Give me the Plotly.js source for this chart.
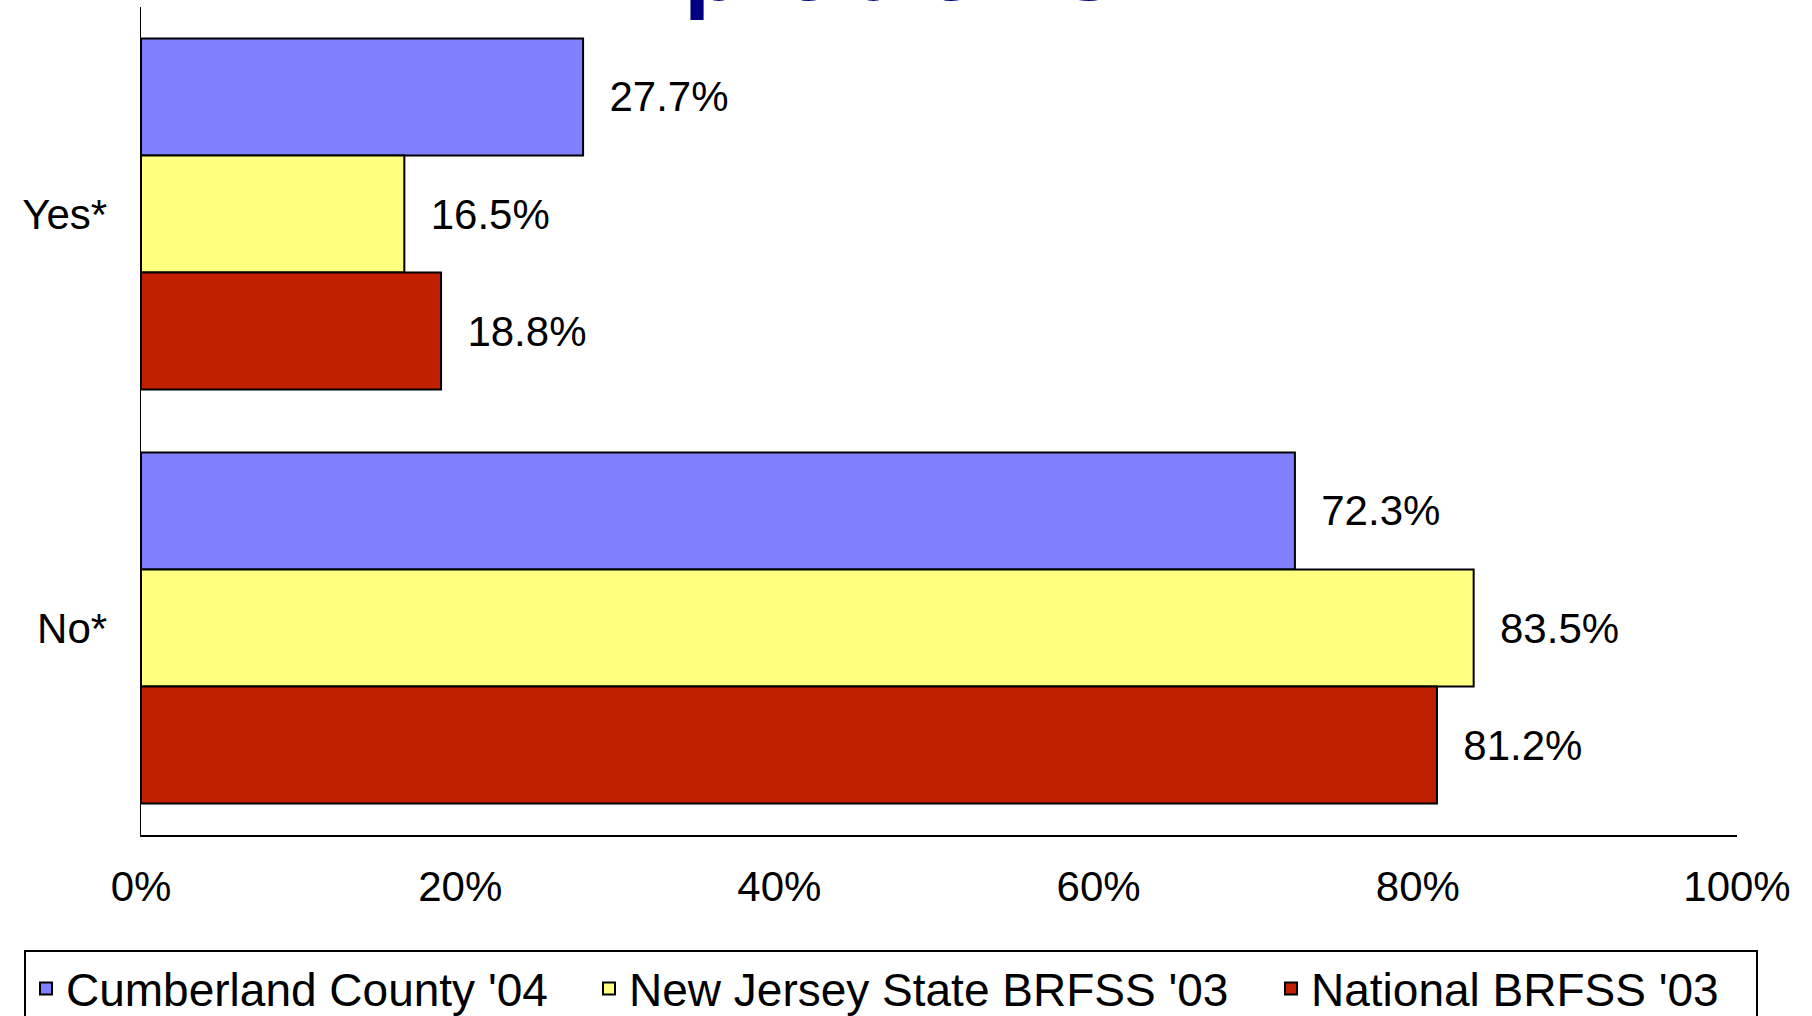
<!DOCTYPE html>
<html>
<head>
<meta charset="utf-8">
<script src="https://cdn.plot.ly/plotly-3.0.1.min.js"></script>
<style>
  html, body { margin: 0; padding: 0; background: #fff; }
  #chart { width: 1812px; height: 1016px; }
</style>
</head>
<body>
<div id="chart"></div>
<script>
// answers (categories) and the three survey series, in percent
var answers = ["Yes*", "No*"];
var cumberland = [27.7, 72.3];
var newJersey = [16.5, 83.5];
var national = [18.8, 81.2];

var seriesNames = ["Cumberland County '04", "New Jersey State BRFSS '03", "National BRFSS '03"];
var seriesColors = ["#8080FF", "#FFFF80", "#C02000"];
var seriesValues = [cumberland, newJersey, national];
// legend entry widths, px
var legendWidths = [518, 637, 440];

var tickVals = [0, 20, 40, 60, 80, 100];
var tickText = ["0%", "20%", "40%", "60%", "80%", "100%"];

var font = "'Liberation Sans', Arial, sans-serif";

//one horizontal bar trace per series
var data = seriesValues.map(function (vals, i) {
  return {
    type: "bar",
    orientation: "h",
    name: seriesNames[i],
    legendwidth: legendWidths[i],
    y: answers,
    x: vals,
    marker: { color: seriesColors[i], line: { color: "#000", width: 2 } },
    texttemplate: "\u00a0\u00a0%{x:.1f}%",
    textposition: "outside",
    constraintext: "none",
    cliponaxis: false,
    textfont: { family: font, size: 42, color: "#000" },
    hoverinfo: "skip"
  };
});

var layout = {
  width: 1812,
  height: 1016,
  paper_bgcolor: "#fff",
  plot_bgcolor: "#fff",
  margin: { l: 141, r: 75, t: 7, b: 181, autoexpand: false },
  barmode: "group",
  bargap: 0.152,
  bargroupgap: 0,
  title: {
    text: "problems?",
    font: { family: font, size: 96, color: "#000080", weight: "bold" },
    xref: "container",
    yref: "container",
    x: 929 / 1812,
    xanchor: "center",
    y: 1,
    yanchor: "bottom"
  },
  xaxis: {
    range: [0, 100],
    tickvals: tickVals,
    ticktext: tickText,
    showgrid: false,
    zeroline: false,
    showline: true,
    linecolor: "#000",
    linewidth: 2,
    ticks: "",
    ticklabelstandoff: 14,
    tickfont: { family: font, size: 42, color: "#000" },
    fixedrange: true
  },
  yaxis: {
    type: "category",
    autorange: "reversed",
    showgrid: false,
    zeroline: false,
    showline: true,
    linecolor: "#000",
    linewidth: 1.5,
    ticks: "",
    ticklabelstandoff: 24,
    tickfont: { family: font, size: 42, color: "#000" },
    fixedrange: true
  },
  showlegend: true,
  legend: {
    orientation: "h",
    x: (24 - 141) / 1596,
    xanchor: "left",
    y: (835 - 950) / 828,
    yanchor: "top",
    bordercolor: "#000",
    borderwidth: 2,
    bgcolor: "#fff",
    font: { family: font, size: 46, color: "#000" },
    traceorder: "normal"
  }
};

Plotly.newPlot("chart", data, layout, { displayModeBar: false, staticPlot: true });
</script>
</body>
</html>
